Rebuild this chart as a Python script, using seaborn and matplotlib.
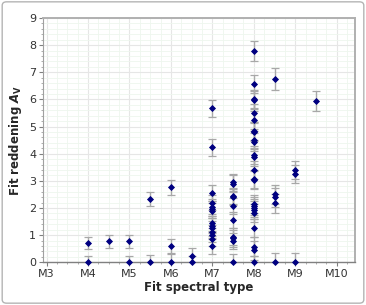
import pandas as pd
import numpy as np
import matplotlib
matplotlib.use("Agg")
import matplotlib.pyplot as plt
import seaborn as sns
from matplotlib.patches import FancyBboxPatch
from matplotlib.ticker import MultipleLocator, FixedLocator

# spectral subtype (M3 = 3 ... M10 = 10), fitted A_V and its error
sptype = [4, 4, 4.5, 5, 5, 5.5, 5.5, 6, 6, 6, 6.5, 6.5,
          7, 7, 7, 7, 7, 7, 7, 7, 7, 7, 7, 7, 7, 7,
          7.5, 7.5, 7.5, 7.5, 7.5, 7.5, 7.5, 7.5, 7.5, 7.5,
          8, 8, 8, 8, 8, 8, 8, 8, 8, 8, 8, 8, 8, 8, 8, 8, 8, 8, 8, 8, 8, 8, 8, 8,
          8.5, 8.5, 8.5, 8.5, 8.5,
          9, 9, 9,
          9.5]
av = [0.72, 0.0, 0.77, 0.78, 0.0, 2.33, 0.0, 2.76, 0.6, 0.0, 0.25, 0.0,
      5.67, 4.23, 2.56, 2.2, 2.05, 1.97, 1.9, 1.44, 1.35, 1.25, 1.1, 1.02, 0.87, 0.6,
      2.95, 2.9, 2.45, 2.4, 2.08, 1.57, 0.95, 0.88, 0.78, 0.0,
      7.78, 6.57, 6.0, 5.97, 5.5, 5.25, 4.85, 4.8, 4.5, 4.42, 3.95, 3.87, 3.4, 3.08, 3.03,
      2.15, 2.07, 2.0, 1.93, 1.83, 1.25, 0.57, 0.45, 0.0,
      6.75, 2.5, 2.4, 2.17, 0.0,
      3.4, 3.25, 0.0,
      5.93]
av_err = [0.23, 0.22, 0.23, 0.24, 0.23, 0.27, 0.27, 0.28, 0.27, 0.3, 0.28, 0.22,
          0.3, 0.3, 0.3, 0.28, 0.28, 0.28, 0.27, 0.27, 0.27, 0.27, 0.26, 0.26, 0.26, 0.3,
          0.32, 0.32, 0.3, 0.3, 0.3, 0.3, 0.3, 0.3, 0.3, 0.3,
          0.36, 0.33, 0.33, 0.33, 0.33, 0.33, 0.33, 0.33, 0.33, 0.33, 0.33, 0.33, 0.33, 0.33, 0.33,
          0.33, 0.33, 0.33, 0.33, 0.33, 0.33, 0.35, 0.35, 0.25,
          0.42, 0.35, 0.35, 0.35, 0.33,
          0.33, 0.33, 0.33,
          0.37]
xtick_labels = ["M3", "M4", "M5", "M6", "M7", "M8", "M9", "M10"]

df = pd.DataFrame({"sptype": sptype, "av": av, "err": av_err})

sns.set_style("white")
plt.rcParams["font.family"] = ["DejaVu Sans"]

fig = plt.figure(figsize=(3.66, 3.05), dpi=100)
ax = fig.add_axes([0.118, 0.14, 0.852, 0.801])

ax.errorbar(df["sptype"], df["av"], yerr=df["err"], fmt="none",
            ecolor="#a8a8a8", elinewidth=1.0, capsize=3, capthick=0.9, zorder=2)
sns.scatterplot(data=df, x="sptype", y="av", marker="D", s=9, color="#000080",
                edgecolor="#000080", linewidth=0.6, ax=ax, zorder=3, clip_on=False)

ax.set_xlim(2.92, 10.44)
ax.set_ylim(0, 9)
ax.xaxis.set_major_locator(FixedLocator(range(3, 11)))
ax.set_xticklabels(xtick_labels)
ax.xaxis.set_minor_locator(MultipleLocator(0.25))
ax.yaxis.set_major_locator(MultipleLocator(1))
ax.yaxis.set_minor_locator(MultipleLocator(0.2))

ax.grid(which="major", color="#e6e6e6", linewidth=0.8)
ax.grid(which="minor", color="#eef6ee", linewidth=0.6)
ax.set_axisbelow(True)

ax.tick_params(which="major", direction="out", length=3, width=0.8, color="#808080",
               labelsize=8, labelcolor="#333333", bottom=True, left=True, pad=2)
ax.tick_params(which="minor", direction="out", length=1.5, width=0.6, color="#a0a0a0",
               bottom=True, left=True)

for side in ["top", "right"]:
    ax.spines[side].set_color("#b0b0b0")
    ax.spines[side].set_linewidth(1.4)
ax.spines["left"].set_color("#a0a0a0")
ax.spines["left"].set_linewidth(0.8)
ax.spines["bottom"].set_color("#808080")
ax.spines["bottom"].set_linewidth(1.0)

ax.set_xlabel("Fit spectral type", fontsize=8.5, fontweight="bold", labelpad=1)
ax.set_ylabel(r"Fit reddening $\mathbfit{A}_\mathbf{V}$", fontsize=8.5,
              fontweight="bold", labelpad=4)

border = FancyBboxPatch((0.006, 0.006), 0.988, 0.988, boxstyle="round,pad=0,rounding_size=0.012",
                        transform=fig.transFigure, facecolor="none", edgecolor="#b4b4b4",
                        linewidth=1.0)
fig.patches.append(border)

plt.savefig("out.png", dpi=100)
